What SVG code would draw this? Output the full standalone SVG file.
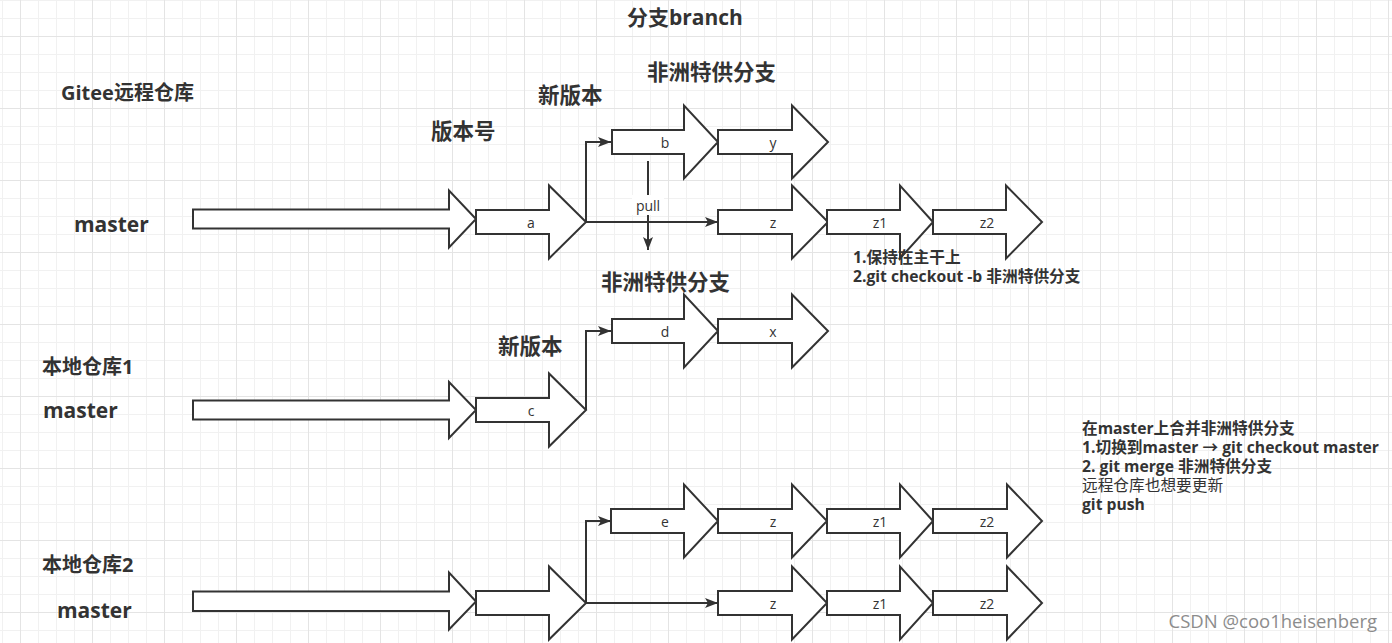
<svg xmlns="http://www.w3.org/2000/svg" width="1392" height="643" viewBox="0 0 1392 643">
<defs>
<pattern id="grid" patternUnits="userSpaceOnUse" x="20" y="36" width="72" height="72">
<path d="M18.5 0V72M36.5 0V72M54.5 0V72M0 18.5H72M0 36.5H72M0 54.5H72" stroke="#f1f1f1" stroke-width="1" fill="none"/>
<path d="M0.5 0V72M0 0.5H72" stroke="#e4e4e4" stroke-width="1" fill="none"/>
</pattern>
<marker id="ah" markerUnits="userSpaceOnUse" markerWidth="14" markerHeight="10" refX="13" refY="5" orient="auto">
<path d="M0 0L13 5L0 10L3 5z" fill="#333"/>
</marker>
</defs>
<style>
.ar{fill:#fff;stroke:#333;stroke-width:2;stroke-linejoin:miter}
.lb{font-family:"Open Sans","Noto Sans CJK SC",sans-serif;font-size:14px;fill:#333;text-anchor:middle;dominant-baseline:central}
.h{font-family:"Open Sans","Noto Sans CJK SC",sans-serif;font-weight:bold;fill:#333}
.n{font-family:"Open Sans","Noto Sans CJK SC",sans-serif;font-weight:bold;fill:#333;font-size:15.7px}
.c{fill:none;stroke:#333;stroke-width:2}
</style>
<rect width="1392" height="643" fill="#fff"/>
<rect width="1392" height="643" fill="url(#grid)"/>

<g id="titles">
<text class="h" x="627" y="25" font-size="21">分支branch</text>
<text class="h" x="647" y="80" font-size="21.5">非洲特供分支</text>
<text class="h" x="538" y="103" font-size="21.5">新版本</text>
<text class="h" x="431" y="139" font-size="21.5">版本号</text>
<text class="h" x="61" y="100" font-size="20">Gitee远程仓库</text>
<text class="h" x="74" y="232" font-size="21">master</text>
<text class="h" x="601" y="290" font-size="21.5">非洲特供分支</text>
<text class="h" x="498" y="354" font-size="21.5">新版本</text>
<text class="h" x="42" y="374" font-size="20">本地仓库1</text>
<text class="h" x="43" y="418" font-size="21">master</text>
<text class="h" x="42" y="572" font-size="20">本地仓库2</text>
<text class="h" x="57" y="618" font-size="21">master</text>
</g>

<g id="connectors">
<path class="c" d="M586 222V142H611" marker-end="url(#ah)"/>
<path class="c" d="M586 222H718" marker-end="url(#ah)"/>
<path class="c" d="M648 161V250" marker-end="url(#ah)"/>
<rect x="632" y="195" width="32" height="20" fill="#fff"/>
<text class="lb" x="648" y="205">pull</text>
<path class="c" d="M586 410V331H611" marker-end="url(#ah)"/>
<path class="c" d="M586 603V521H611" marker-end="url(#ah)"/>
<path class="c" d="M586 603H718" marker-end="url(#ah)"/>
</g>

<g id="remote-master">
<polygon class="ar" points="193,209.5 449,209.5 449,190.5 476,219 449,247.5 449,228.5 193,228.5"/>
</g>
<g id="node-a">
<polygon class="ar" points="476,210 549,210 549,185.5 586,222 549,258.5 549,234 476,234"/>
<text class="lb" x="531" y="222">a</text>
</g>
<g id="node-b">
<polygon class="ar" points="612,130 684,130 684,105.5 718,142 684,178.5 684,154 612,154"/>
<text class="lb" x="665" y="142">b</text>
</g>
<g id="node-y">
<polygon class="ar" points="718,130 792,130 792,105.5 828,142 792,178.5 792,154 718,154"/>
<text class="lb" x="773" y="142">y</text>
</g>
<g id="node-z-remote">
<polygon class="ar" points="718,210 792,210 792,185.5 828,222 792,258.5 792,234 718,234"/>
<text class="lb" x="773" y="222">z</text>
</g>
<g id="node-z1-remote">
<polygon class="ar" points="827,210 900,210 900,185.5 933,222 900,258.5 900,234 827,234"/>
<text class="lb" x="880" y="222">z1</text>
</g>
<g id="node-z2-remote">
<polygon class="ar" points="933,210 1006,210 1006,185.5 1042,222 1006,258.5 1006,234 933,234"/>
<text class="lb" x="987" y="222">z2</text>
</g>

<g id="local1-master">
<polygon class="ar" points="193,400.5 449,400.5 449,382 476,410 449,438 449,419.5 193,419.5"/>
</g>
<g id="node-c">
<polygon class="ar" points="476,398 549,398 549,373.5 586,410 549,446.5 549,422 476,422"/>
<text class="lb" x="531" y="410">c</text>
</g>
<g id="node-d">
<polygon class="ar" points="612,319 684,319 684,294.5 718,331 684,367.5 684,343 612,343"/>
<text class="lb" x="665" y="331">d</text>
</g>
<g id="node-x">
<polygon class="ar" points="718,319 792,319 792,294.5 828,331 792,367.5 792,343 718,343"/>
<text class="lb" x="773" y="331">x</text>
</g>

<g id="local2-master">
<polygon class="ar" points="193,591.5 449,591.5 449,572.5 476,601.5 449,629.5 449,611 193,611"/>
</g>
<g id="node-local2-a">
<polygon class="ar" points="476,591 549,591 549,566.5 586,603 549,639.5 549,615 476,615"/>
</g>
<g id="node-e">
<polygon class="ar" points="611,509 684,509 684,484.5 718,521 684,557.5 684,533 611,533"/>
<text class="lb" x="665" y="521">e</text>
</g>
<g id="node-z-e">
<polygon class="ar" points="718,509 792,509 792,484.5 827,521 792,557.5 792,533 718,533"/>
<text class="lb" x="773" y="521">z</text>
</g>
<g id="node-z1-e">
<polygon class="ar" points="827,509 900,509 900,484.5 933,521 900,557.5 900,533 827,533"/>
<text class="lb" x="880" y="521">z1</text>
</g>
<g id="node-z2-e">
<polygon class="ar" points="933,509 1007,509 1007,484.5 1042,521 1007,557.5 1007,533 933,533"/>
<text class="lb" x="987" y="521">z2</text>
</g>
<g id="node-z-m">
<polygon class="ar" points="718,591 792,591 792,566.5 827,603 792,639.5 792,615 718,615"/>
<text class="lb" x="773" y="603">z</text>
</g>
<g id="node-z1-m">
<polygon class="ar" points="827,591 900,591 900,566.5 933,603 900,639.5 900,615 827,615"/>
<text class="lb" x="880" y="603">z1</text>
</g>
<g id="node-z2-m">
<polygon class="ar" points="933,591 1007,591 1007,566.5 1042,603 1007,639.5 1007,615 933,615"/>
<text class="lb" x="987" y="603">z2</text>
</g>

<g id="note-checkout">
<text class="n"><tspan x="853" y="263">1.保持在主干上</tspan><tspan x="853" y="282">2.git checkout -b 非洲特供分支</tspan></text>
</g>
<g id="note-merge">
<text class="n"><tspan x="1082" y="434">在master上合并非洲特供分支</tspan><tspan x="1082" y="453">1.切换到master → git checkout master</tspan><tspan x="1082" y="472">2. git merge 非洲特供分支</tspan><tspan x="1082" y="491" font-weight="normal">远程仓库也想要更新</tspan><tspan x="1082" y="510">git push</tspan></text>
</g>
<text x="1377" y="628" text-anchor="end" font-family="'Open Sans',sans-serif" font-size="18.5" fill="#8c8c8c">CSDN @coo1heisenberg</text>
</svg>
